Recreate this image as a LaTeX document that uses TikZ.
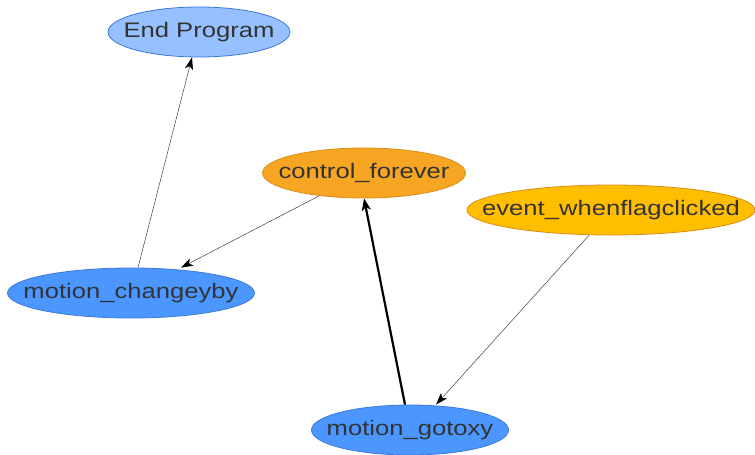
\documentclass[tikz,border=0pt]{standalone}
\usepackage{fontspec}
\setmainfont{Liberation Sans}
\usetikzlibrary{arrows.meta,shapes.geometric}
\definecolor{lightblock}{RGB}{150,192,255}
\definecolor{motionblue}{RGB}{76,151,255}
\definecolor{controlorange}{RGB}{246,166,35}
\definecolor{eventyellow}{RGB}{255,191,0}
\definecolor{blueedge}{RGB}{60,120,220}
\definecolor{orangeedge}{RGB}{220,140,20}
\definecolor{labeltext}{RGB}{51,51,51}
% label text, widened and given no width of its own so the ellipse keeps its set size
\newcommand{\wlabel}[1]{\makebox[0pt]{\scalebox{1.22}[1]{#1}}}
\tikzset{
  block/.style={ellipse, draw, line width=0.8pt, text=labeltext,
    font=\fontsize{21}{24}\selectfont, inner sep=0pt,
    minimum width=#1, minimum height=50pt},
  bluenode/.style={block=#1, fill=motionblue, draw=blueedge},
  thin link/.style={draw=black!75, line width=0.5pt, -{Stealth[length=12pt,width=8pt,inset=3pt,color=black]}},
  thick link/.style={draw=black, line width=2.2pt, -{Stealth[length=12pt,width=9pt,inset=3pt]}},
}
\begin{document}
\begin{tikzpicture}[x=1pt,y=-1pt]
  \useasboundingbox (0,0) rectangle (755,455);
  \node[block=182pt, fill=lightblock, draw=blueedge] (end) at (199,32) {\wlabel{End Program}};
  \node[block=203pt, fill=controlorange, draw=orangeedge] (forever) at (364,173) {\wlabel{control\_forever}};
  \node[block=288pt, fill=eventyellow, draw=orangeedge] (flag) at (611,210) {\wlabel{event\_whenflagclicked}};
  \node[bluenode=247pt] (change) at (131,293) {\wlabel{motion\_changeyby}};
  \node[bluenode=197pt] (goto) at (410,430) {\wlabel{motion\_gotoxy}};

  \coordinate (c1) at ([xshift=7pt]change.north);
  \coordinate (g1) at ([xshift=-5pt]goto.north);
  \coordinate (f1) at (forever.-153);
  \coordinate (e1) at (flag.-131);

  \draw[thin link] (c1) -- ([xshift=-7pt]end.south);
  \draw[thin link] (f1) -- ([xshift=50pt]change.north);
  \draw[thick link] (g1) -- (forever.south);
  \draw[thin link] (e1) -- ([xshift=26pt]goto.north);
\end{tikzpicture}
\end{document}
